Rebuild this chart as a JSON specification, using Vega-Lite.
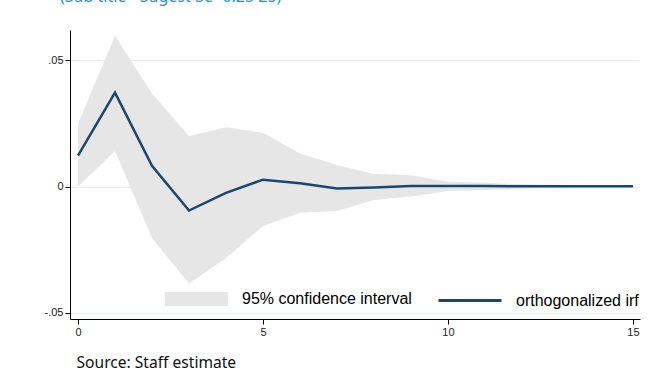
{
  "$schema": "https://vega.github.io/schema/vega-lite/v6.json",
  "width": 570,
  "height": 289,
  "autosize": {"type": "none"},
  "padding": {"left": 70, "top": 30, "right": 10, "bottom": 62},
  "background": "white",
  "config": {"view": {"stroke": null}, "font": "Liberation Sans"},
  "title": {
    "text": "(Sub title - Sugest 3e -0.25 25)",
    "anchor": "start",
    "frame": "group",
    "dx": -10,
    "dy": 10,
    "offset": 22,
    "baseline": "alphabetic",
    "font": "Noto Sans",
    "fontSize": 16,
    "fontWeight": "normal",
    "color": "#2394d3"
  },
  "data": {
    "values": [
      {"step": 0, "irf": 0.0122, "lo": 0.0, "hi": 0.0247},
      {"step": 1, "irf": 0.0371, "lo": 0.014, "hi": 0.0596},
      {"step": 2, "irf": 0.0082, "lo": -0.0204, "hi": 0.0368},
      {"step": 3, "irf": -0.0095, "lo": -0.0384, "hi": 0.02},
      {"step": 4, "irf": -0.0025, "lo": -0.0283, "hi": 0.0234},
      {"step": 5, "irf": 0.0027, "lo": -0.0156, "hi": 0.0213},
      {"step": 6, "irf": 0.0013, "lo": -0.0104, "hi": 0.0131},
      {"step": 7, "irf": -0.0008, "lo": -0.0097, "hi": 0.0085},
      {"step": 8, "irf": -0.0004, "lo": -0.0053, "hi": 0.0049},
      {"step": 9, "irf": 0.0002, "lo": -0.004, "hi": 0.0045},
      {"step": 10, "irf": 0.0002, "lo": -0.0018, "hi": 0.0019},
      {"step": 11, "irf": 0.0002, "lo": -0.0014, "hi": 0.0015},
      {"step": 12, "irf": 0.0001, "lo": -0.0009, "hi": 0.0009},
      {"step": 13, "irf": 0.0001, "lo": -0.0006, "hi": 0.0006},
      {"step": 14, "irf": 0.0001, "lo": -0.0004, "hi": 0.0004},
      {"step": 15, "irf": 0.0001, "lo": -0.0003, "hi": 0.0003}
    ]
  },
  "layer": [
    {
      "mark": {"type": "area", "opacity": 1},
      "encoding": {
        "x": {
          "field": "step",
          "type": "quantitative",
          "scale": {"domain": [-0.216, 15.19], "nice": false, "zero": false},
          "axis": {
            "values": [0, 5, 10, 15],
            "grid": false,
            "tickSize": 5,
            "tickColor": "#000000",
            "domainColor": "#000000",
            "labelFontSize": 11,
            "labelColor": "#222222",
            "labelPadding": 2,
            "title": "Source: Staff estimate",
            "titleFont": "Noto Sans",
            "titleFontSize": 15.6,
            "titleFontWeight": "normal",
            "titleColor": "#111111",
            "titleAnchor": "start",
            "titleAlign": "left",
            "titleBaseline": "alphabetic",
            "titleX": 6,
            "titleY": 48
          }
        },
        "y": {
          "field": "lo",
          "type": "quantitative",
          "scale": {"domain": [-0.0524, 0.0619], "nice": false, "zero": false},
          "axis": {
            "values": [-0.05, 0, 0.05],
            "labelExpr": "datum.value == 0 ? '0' : (datum.value > 0 ? '.05' : '-.05')",
            "grid": true,
            "gridColor": "#e4edf0",
            "tickSize": 5,
            "tickColor": "#000000",
            "domainColor": "#000000",
            "labelFontSize": 11,
            "labelColor": "#222222",
            "labelPadding": 2,
            "title": null
          }
        },
        "y2": {"field": "hi"},
        "fill": {
          "datum": "95% confidence interval",
          "type": "nominal",
          "scale": {"range": ["#e6e6e6"]},
          "legend": {
            "orient": "none",
            "legendX": 95,
            "legendY": 237.5,
            "title": null,
            "padding": 0,
            "symbolType": "M-1,-0.22H1V0.22H-1Z",
            "symbolSize": 3969,
            "symbolStrokeWidth": 0,
            "labelFontSize": 16,
            "labelLimit": 300,
            "labelColor": "#000000",
            "labelOffset": 14
          }
        }
      }
    },
    {
      "mark": {"type": "line", "strokeWidth": 2.5},
      "encoding": {
        "x": {"field": "step", "type": "quantitative"},
        "y": {"field": "irf", "type": "quantitative"},
        "stroke": {
          "datum": "orthogonalized irf",
          "type": "nominal",
          "scale": {"range": ["#1a476f"]},
          "legend": {
            "orient": "none",
            "legendX": 367,
            "legendY": 237.5,
            "title": null,
            "padding": 0,
            "symbolType": "M-1,0H1",
            "symbolSize": 3969,
            "symbolStrokeWidth": 3,
            "labelFontSize": 16,
            "labelLimit": 300,
            "labelColor": "#000000",
            "labelOffset": 13
          }
        }
      }
    }
  ]
}
